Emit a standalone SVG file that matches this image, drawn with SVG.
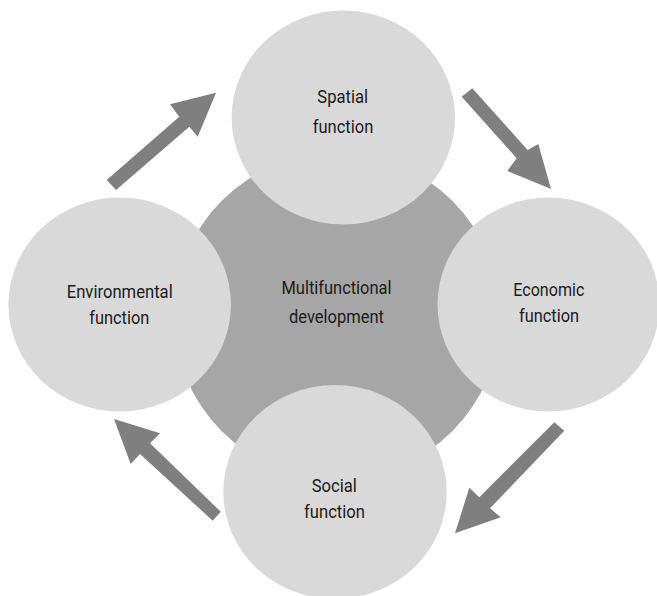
<svg xmlns="http://www.w3.org/2000/svg" width="657" height="596" viewBox="0 0 657 596">
<style>
.lt{fill:#d9d9d9}
.dk{fill:#a6a6a6}
.ar{fill:#7f7f7f}
text{font-family:Roboto,"Liberation Sans",sans-serif;font-size:18.5px;fill:#1a1a1a;text-anchor:middle}
</style>
<rect width="657" height="596" fill="#ffffff"/>
<g id="center">
<circle class="dk" cx="337" cy="316" r="163"/>
<text x="336.5" y="294" textLength="110" lengthAdjust="spacingAndGlyphs">Multifunctional</text>
<text x="336.5" y="323" textLength="95" lengthAdjust="spacingAndGlyphs">development</text>
</g>
<g id="spatial">
<ellipse class="lt" cx="343.3" cy="117.5" rx="111.7" ry="107"/>
<text x="342.7" y="103.3" textLength="50.7" lengthAdjust="spacingAndGlyphs">Spatial</text>
<text x="343" y="132.7" textLength="60.5" lengthAdjust="spacingAndGlyphs">function</text>
</g>
<g id="economic">
<ellipse class="lt" cx="548.5" cy="304.5" rx="111" ry="107"/>
<text x="548.8" y="296" textLength="71" lengthAdjust="spacingAndGlyphs">Economic</text>
<text x="549" y="322" textLength="60" lengthAdjust="spacingAndGlyphs">function</text>
</g>
<g id="social">
<ellipse class="lt" cx="335" cy="492" rx="111.7" ry="107"/>
<text x="334.2" y="492.3" textLength="45" lengthAdjust="spacingAndGlyphs">Social</text>
<text x="334.5" y="518.3" textLength="61" lengthAdjust="spacingAndGlyphs">function</text>
</g>
<g id="environmental">
<ellipse class="lt" cx="119.7" cy="304.5" rx="111.3" ry="107"/>
<text x="119.7" y="298.3" textLength="106" lengthAdjust="spacingAndGlyphs">Environmental</text>
<text x="119.3" y="324" textLength="60" lengthAdjust="spacingAndGlyphs">function</text>
</g>
<g id="connectors">
<polygon class="ar" points="106.7,180 179.3,116.7 170,104.3 216,92.7 197.7,136.7 189.3,126.7 116,190"/>
<polygon class="ar" points="472.3,88.3 527.7,150 538.3,144 551,189 507.3,171 516.7,158.3 461.7,96.7"/>
<polygon class="ar" points="564.3,430.7 490,508.3 500.7,517.3 455,533.3 469.3,487.7 479.3,497.3 554.3,422.3"/>
<polygon class="ar" points="220.7,511.7 150,443.3 160,433.3 114,419 130.7,464 140,454 212.7,520.7"/>
</g>
</svg>
